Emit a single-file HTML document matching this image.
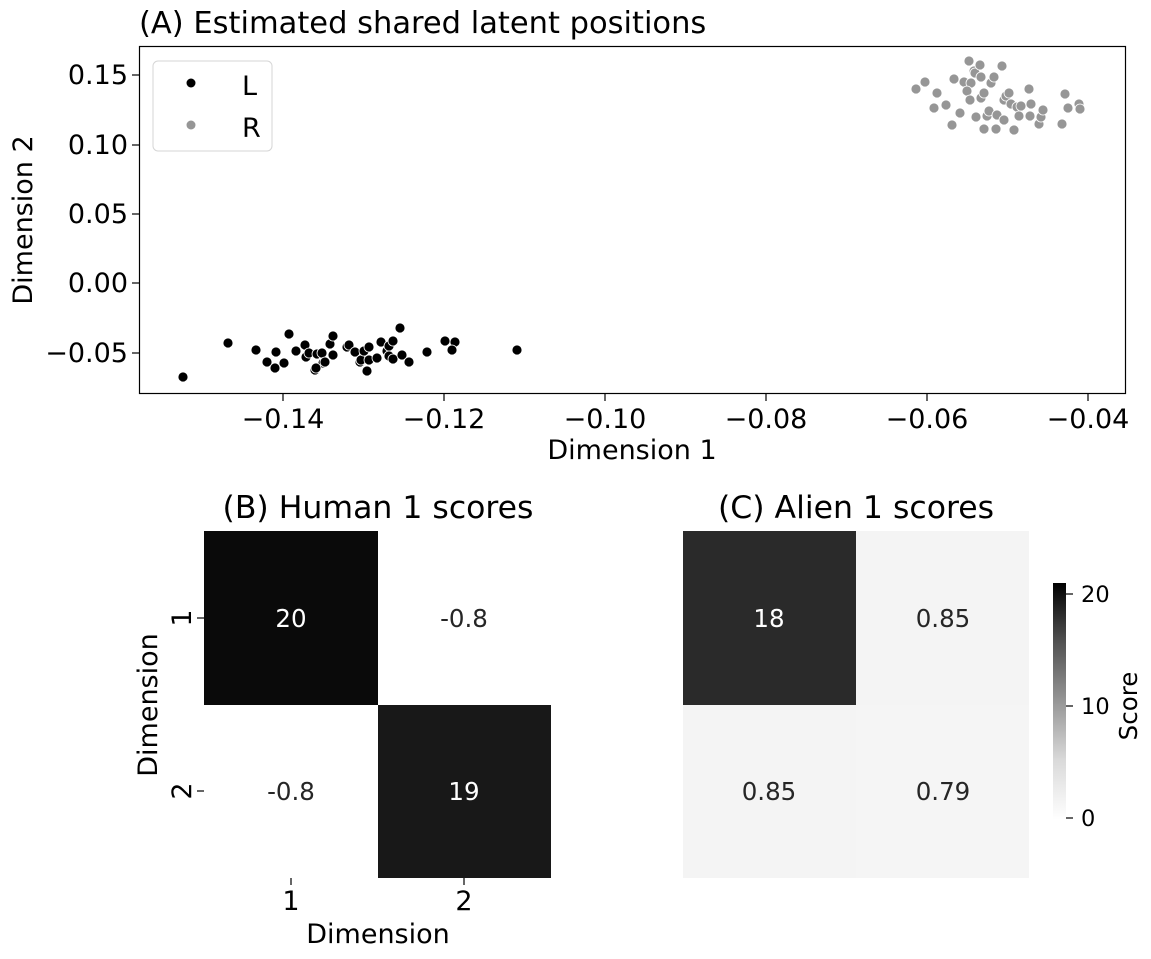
<!DOCTYPE html>
<html><head><meta charset="utf-8"><style>
body{margin:0;background:#fff}
svg{display:block;font-family:"DejaVu Sans","Liberation Sans",sans-serif}
</style></head><body>
<svg id="s" width="1151" height="959" viewBox="0 0 1151 959" xmlns="http://www.w3.org/2000/svg">
<defs><linearGradient id="cb" x1="0" y1="1" x2="0" y2="0">
<stop offset="0" stop-color="#ffffff"/><stop offset="0.25" stop-color="#dadada"/><stop offset="0.5" stop-color="#969696"/><stop offset="0.75" stop-color="#525252"/><stop offset="1" stop-color="#000000"/></linearGradient></defs>
<text x="139" y="33" font-size="30.5">(A) Estimated shared latent positions</text>
<rect x="139.5" y="46.5" width="986" height="347" fill="none" stroke="#000" stroke-width="1.2"/>
<g id="pts"></g>
<g font-size="27" text-anchor="end">
<text x="128" y="84">0.15</text><text x="128" y="154">0.10</text><text x="128" y="223">0.05</text><text x="128" y="292">0.00</text><text x="128" y="362">−0.05</text>
</g>
<g stroke="#000" stroke-width="1.2">
<line x1="132" y1="75" x2="139" y2="75"/><line x1="132" y1="145" x2="139" y2="145"/><line x1="132" y1="214" x2="139" y2="214"/><line x1="132" y1="283" x2="139" y2="283"/><line x1="132" y1="353" x2="139" y2="353"/>
<line x1="283" y1="394" x2="283" y2="401"/><line x1="444" y1="394" x2="444" y2="401"/><line x1="605" y1="394" x2="605" y2="401"/><line x1="766" y1="394" x2="766" y2="401"/><line x1="927" y1="394" x2="927" y2="401"/><line x1="1088" y1="394" x2="1088" y2="401"/>
</g>
<g font-size="27" text-anchor="middle">
<text x="283" y="428">−0.14</text><text x="444" y="428">−0.12</text><text x="605" y="428">−0.10</text><text x="766" y="428">−0.08</text><text x="927" y="428">−0.06</text><text x="1088" y="428">−0.04</text>
<text x="632" y="459">Dimension 1</text>
</g>
<text transform="translate(32,220) rotate(-90)" font-size="27" text-anchor="middle">Dimension 2</text>
<rect x="153" y="61" width="119" height="90" rx="5" fill="#fff" stroke="#d6d6d6" stroke-width="1"/>
<circle cx="191" cy="83" r="4.5" fill="#000"/><circle cx="191" cy="125" r="4.5" fill="#969696"/>
<text x="242" y="95" font-size="27">L</text><text x="242" y="137" font-size="27">R</text>

<!-- B -->
<text x="378" y="518" font-size="31.5" text-anchor="middle">(B) Human 1 scores</text>
<rect x="204" y="531" width="174" height="174" fill="#0a0a0a"/>
<rect x="378" y="531" width="173" height="174" fill="#ffffff"/>
<rect x="204" y="705" width="174" height="173" fill="#ffffff"/>
<rect x="378" y="705" width="173" height="173" fill="#181818"/>
<g font-size="24.5" text-anchor="middle">
<text x="291" y="627" fill="#fff">20</text><text x="464" y="627" fill="#262626">-0.8</text>
<text x="291" y="800" fill="#262626">-0.8</text><text x="464" y="800" fill="#fff">19</text>
</g>
<g stroke="#000" stroke-width="1.2"><line x1="197" y1="618" x2="204" y2="618"/><line x1="197" y1="791" x2="204" y2="791"/><line x1="291" y1="878" x2="291" y2="885"/><line x1="464" y1="878" x2="464" y2="885"/></g>
<g font-size="27" text-anchor="middle">
<text transform="translate(191,618) rotate(-90)">1</text>
<text transform="translate(191,791) rotate(-90)">2</text>
<text x="291" y="910">1</text><text x="464" y="910">2</text>
<text x="378" y="943">Dimension</text>
<text transform="translate(157,705) rotate(-90)">Dimension</text>
</g>

<!-- C -->
<text x="856" y="518" font-size="31.5" text-anchor="middle">(C) Alien 1 scores</text>
<rect x="683" y="531" width="173" height="174" fill="#2a2a2a"/>
<rect x="856" y="531" width="173" height="174" fill="#f4f4f4"/>
<rect x="683" y="705" width="173" height="173" fill="#f4f4f4"/>
<rect x="856" y="705" width="173" height="173" fill="#f5f5f5"/>
<g font-size="24.5" text-anchor="middle">
<text x="769" y="627" fill="#fff">18</text><text x="943" y="627" fill="#262626">0.85</text>
<text x="769" y="800" fill="#262626">0.85</text><text x="943" y="800" fill="#262626">0.79</text>
</g>
<rect x="1053" y="583" width="13" height="237" fill="url(#cb)"/>
<g stroke="#000" stroke-width="1.2"><line x1="1066" y1="594" x2="1073" y2="594"/><line x1="1066" y1="706" x2="1073" y2="706"/><line x1="1066" y1="818" x2="1073" y2="818"/></g>
<g font-size="22.5"><text x="1081" y="602">20</text><text x="1081" y="714">10</text><text x="1081" y="826">0</text></g>
<text transform="translate(1137,706) rotate(-90)" font-size="24.5" text-anchor="middle">Score</text>
</svg>
<script>
var B=[[183,377],[228,343],[256,350],[276,352],[267,362],[275,368],[284,363],[289,334],[296,351],[305,345],[306,357],[309,353],[317,354],[322,353],[323,363],[325,362],[315,370],[316,368],[330,344],[333,336],[333,355],[347,347],[349,345],[355,352],[360,362],[361,360],[364,351],[369,347],[369,360],[367,371],[377,358],[381,342],[387,351],[389,346],[389,356],[393,359],[393,341],[400,328],[402,355],[409,362],[427,352],[445,341],[455,342],[452,350],[517,350]];
var G=[[916,89],[925,82],[937,93],[934,108],[946,105],[952,125],[960,113],[954,79],[964,82],[969,61],[971,83],[967,91],[970,100],[974,71],[975,73],[980,65],[981,77],[976,117],[981,98],[984,93],[984,129],[987,116],[989,111],[991,83],[994,77],[997,115],[996,129],[1002,66],[1004,100],[1004,120],[1006,96],[1009,93],[1011,104],[1014,130],[1017,107],[1021,106],[1019,116],[1029,89],[1031,104],[1030,116],[1039,124],[1041,117],[1043,110],[1062,124],[1065,94],[1068,108],[1079,104],[1080,109]];
var h='';B.forEach(function(p){h+='<circle cx="'+p[0]+'" cy="'+p[1]+'" r="5" fill="#000" stroke="#fff" stroke-width="0.8"/>'});
G.forEach(function(p){h+='<circle cx="'+p[0]+'" cy="'+p[1]+'" r="5" fill="#969696" stroke="#fff" stroke-width="0.8"/>'});
document.getElementById('pts').innerHTML=h;
</script>
</body></html>
